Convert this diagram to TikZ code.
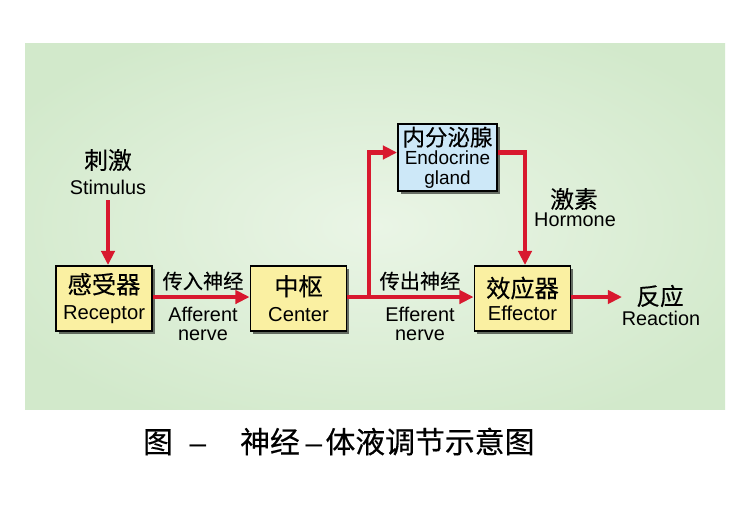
\documentclass[tikz,border=0pt]{standalone}
\usepackage{fontspec}
\setmainfont{Liberation Sans}
\newfontfamily\cjk[FakeBold=0.3]{Noto Sans CJK SC}
\usetikzlibrary{arrows.meta,shadows,calc}
\definecolor{bgin}{HTML}{EAF5E6}
\definecolor{bgout}{HTML}{D2E9CB}
\definecolor{boxyel}{HTML}{FAF0A2}
\definecolor{boxblue}{HTML}{CDE8F8}
\definecolor{arrred}{HTML}{D8182E}
\pgfdeclareradialshading{bgshade}{\pgfpoint{0bp}{0bp}}{color(0bp)=(bgin); color(30bp)=(bgout); color(50bp)=(bgout)}
\begin{document}
\begin{tikzpicture}[x=0.02cm,y=-0.02cm,
  boxnode/.style={draw=black, line width=1.1pt, fill=boxyel, align=center,
    minimum width=1.92cm, minimum height=1.3cm, inner sep=1pt,
    drop shadow={shadow xshift=1.6pt, shadow yshift=-1.6pt, fill=black, opacity=0.55}},
  arr/.style={draw=arrred, line width=2.4pt, -{Triangle[length=8pt,width=7.5pt]}},
  zh/.style={font=\cjk\fontsize{13.5}{15}\selectfont, inner sep=0pt},
  zhs/.style={font=\cjk\fontsize{11.5}{13}\selectfont, inner sep=0pt},
  en/.style={font=\fontsize{11.3}{12}\selectfont, inner sep=0pt},
  captext/.style={font=\cjk\fontsize{17}{19}\selectfont, inner sep=0pt, anchor=base},
  capdash/.style={font=\fontsize{17}{19}\selectfont, inner sep=0pt, anchor=base}]
\useasboundingbox (0,0) rectangle (750,525);
\fill[white] (0,0) rectangle (750,525);
\shade[shading=bgshade] (25,43) rectangle (725,409);

% boxes
\node[boxnode] (rec) at (104,298.5) {{\cjk\fontsize{13.8}{15}\selectfont 感受器}\\[3pt]{\fontsize{11.5}{12}\selectfont Receptor}};
\node[boxnode] (cen) at (298.5,298.5) {{\cjk\fontsize{13.8}{15}\selectfont 中枢}\\[3pt]{\fontsize{11.5}{12}\selectfont Center}};
\node[boxnode] (eff) at (522.5,298.5) {{\cjk\fontsize{13.8}{15}\selectfont 效应器}\\[1pt]{\fontsize{11.5}{12}\selectfont Effector}};
\node[boxnode, fill=boxblue, minimum width=1.98cm, minimum height=1.34cm] (endo) at (447.5,157.5)
  {{\cjk\fontsize{12.8}{13}\selectfont 内分泌腺}\\[-1pt]{\fontsize{10.8}{10}\selectfont Endocrine}\\[-1pt]{\fontsize{10.8}{10}\selectfont gland}};

% free texts
\node[zh] (stimzh) at (108,160) {刺激};
\node[en] (stimen) at (108,187) {Stimulus};
\node[zhs] (affzh) at (203,281) {传入神经};
\node[en, align=center] (affen) at (203,324) {Afferent\\[-1.5pt]nerve};
\node[zhs] (effzh) at (420,281) {传出神经};
\node[en, align=center] (effen) at (420,324) {Efferent\\[-1.5pt]nerve};
\node[zh] (horzh) at (574,199) {激素};
\node[en] (horen) at (575,220) {Hormone};
\node[zh] (reazh) at (660,296) {反应};
\node[en] (reaen) at (661,318) {Reaction};

% connectors
\coordinate (br) at (369,297);
\coordinate (stimtail) at (108,200);
\draw[arr] (stimtail) -- (stimtail |- rec.north);
\draw[arr] (rec.east |- br) -- (cen.west |- br);
\draw[arr] (cen.east |- br) -- (eff.west |- br);
\draw[arr] (br) |- ($(endo.west)+(0,-5)$);
\draw[arr] ($(endo.east)+(0,-5)$) -| ($(eff.north)+(2.5,0)$);
\draw[arr] (eff.east |- br) -- (622,297);

% caption
\node[captext] (c1) at (158,453) {图};
\node[capdash] (c2) at (198,453) {–};
\node[captext] (c3) at (270,453) {神经};
\node[capdash] (c4) at (314,453) {–};
\node[captext] (c5) at (430,453) {体液调节示意图};
\end{tikzpicture}
\end{document}
